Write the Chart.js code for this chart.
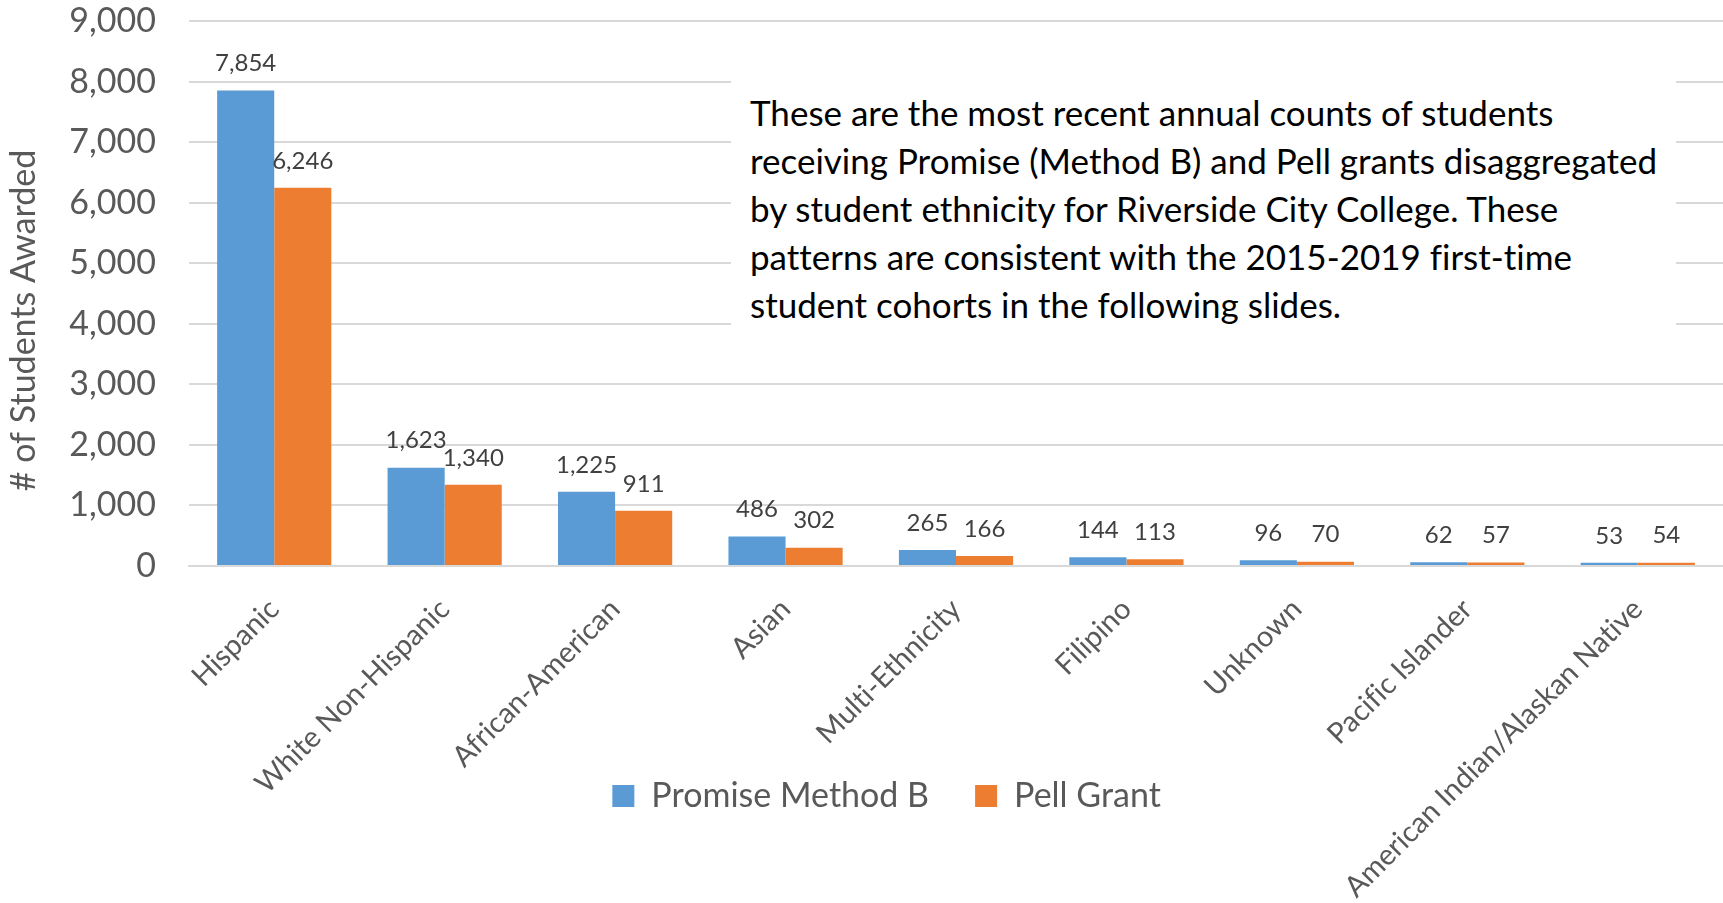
<!DOCTYPE html>
<html>
<head>
<meta charset="utf-8">
<script src="https://cdn.jsdelivr.net/npm/chart.js@4/dist/chart.umd.min.js"></script>
<style>
  html, body { margin: 0; padding: 0; background: #ffffff; }
  #wrap { position: relative; width: 1723px; height: 903px; }
  #note {
    position: absolute; left: 731px; top: 66px; width: 945px; height: 284px;
    background: #ffffff; box-sizing: border-box; padding: 22px 0 0 19px;
    font-family: Lato, "Open Sans", sans-serif; font-size: 35px; line-height: 48px;
    font-variant-ligatures: none; color: #000000; white-space: nowrap;
  }
</style>
</head>
<body>
<div id="wrap">
  <canvas id="c" width="1723" height="903"></canvas>
  <div id="note">These are the most recent annual counts of students<br>receiving Promise (Method B) and Pell grants disaggregated<br>by student ethnicity for Riverside City College. These<br>patterns are consistent with the 2015-2019 first-time<br>student cohorts in the following slides.</div>
</div>
<script>
const categories = [
  'Hispanic', 'White Non-Hispanic', 'African-American', 'Asian', 'Multi-Ethnicity',
  'Filipino', 'Unknown', 'Pacific Islander', 'American Indian/Alaskan Native'
];
const promiseMethodB = [7854, 1623, 1225, 486, 265, 144, 96, 62, 53];
const pellGrant = [6246, 1340, 911, 302, 166, 113, 70, 57, 54];
const seriesNames = ['Promise Method B', 'Pell Grant'];
const yTicks = { min: 0, max: 9000, step: 1000 };

const FONT = 'Lato, "Open Sans", sans-serif';
const numFmt = new Intl.NumberFormat('en-US');

// Tiny letter spacing keeps canvas text free of ligatures (e.g. "fi")
const noLigatures = {
  id: 'noLigatures',
  beforeDraw(chart) { chart.ctx.letterSpacing = '0.01px'; }
};

// Legend sits slightly right of the canvas centre
const legendShift = {
  id: 'legendShift',
  afterLayout(chart) { if (chart.legend) chart.legend.left += 50; }
};

// Value labels above every bar, placed from the bar elements themselves
const barValueLabels = {
  id: 'barValueLabels',
  afterDatasetsDraw(chart) {
    const ctx = chart.ctx;
    ctx.save();
    ctx.font = '24px ' + FONT;
    ctx.fillStyle = '#404040';
    ctx.textAlign = 'center';
    ctx.textBaseline = 'middle';
    chart.data.datasets.forEach((ds, i) => {
      chart.getDatasetMeta(i).data.forEach((bar, j) => {
        ctx.fillText(numFmt.format(ds.data[j]), bar.x, bar.y - 27);
      });
    });
    ctx.restore();
  }
};

new Chart(document.getElementById('c'), {
  type: 'bar',
  data: {
    labels: categories,
    datasets: [
      { label: seriesNames[0], data: promiseMethodB, backgroundColor: '#5B9BD5', borderWidth: 0 },
      { label: seriesNames[1], data: pellGrant, backgroundColor: '#ED7D31', borderWidth: 0 }
    ]
  },
  options: {
    responsive: false,
    animation: false,
    devicePixelRatio: 1,
    categoryPercentage: 0.67,
    barPercentage: 1.0,
    layout: { padding: { top: 0, right: 0, bottom: 80, left: 0 } },
    plugins: {
      tooltip: { enabled: false },
      legend: {
        position: 'bottom',
        labels: {
          font: { family: FONT, size: 34 },
          color: '#595959',
          boxWidth: 22,
          boxHeight: 22,
          padding: 46
        }
      }
    },
    scales: {
      x: {
        grid: { display: false, drawTicks: false },
        border: { display: true, color: '#D9D9D9', width: 2 },
        ticks: {
          autoSkip: false,
          minRotation: 45,
          maxRotation: 45,
          padding: 26,
          color: '#595959',
          font: { family: FONT, size: 29 }
        },
        afterFit(scale) {
          scale.height = 167;
          // long rotated labels run past the axis box, down beside the legend
          scale._computeLabelArea = () => undefined;
        }
      },
      y: {
        min: yTicks.min,
        max: yTicks.max,
        grid: { color: '#D9D9D9', lineWidth: 2, drawTicks: false },
        border: { display: false },
        ticks: {
          stepSize: yTicks.step,
          padding: 33,
          color: '#595959',
          font: { family: FONT, size: 34 }
        },
        title: {
          display: true,
          text: '# of Students Awarded',
          color: '#595959',
          font: { family: FONT, size: 34 },
          padding: { top: 4, bottom: 0 }
        },
        afterFit(scale) {
          scale.width = 189;
          scale.paddingTop = 21;
          // axis title sits a little below the middle of the value range
          if (!scale._titleShifted) {
            const drawTitle = scale.drawTitle.bind(scale);
            scale.drawTitle = function () {
              const ctx = this.ctx;
              ctx.save();
              ctx.translate(0, 27);
              drawTitle();
              ctx.restore();
            };
            scale._titleShifted = true;
          }
        }
      }
    }
  },
  plugins: [noLigatures, legendShift, barValueLabels]
});
</script>
</body>
</html>
